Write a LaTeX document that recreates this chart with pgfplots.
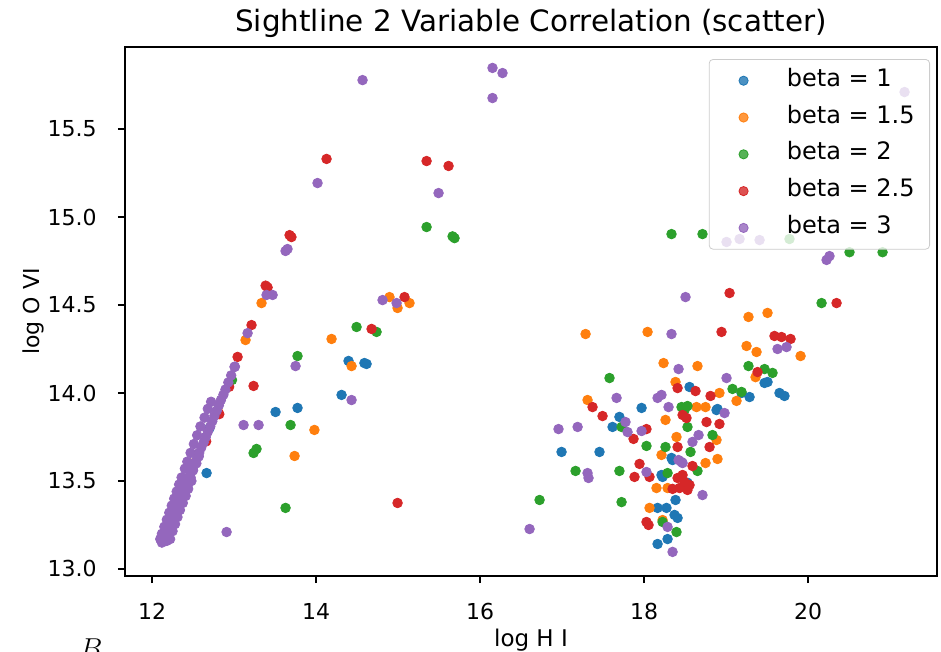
\documentclass[border=0pt]{standalone}
\usepackage{pgfplots}
\pgfplotsset{compat=1.18}
\usepackage{fontspec}
\setmainfont{DejaVu Sans}
\definecolor{tabblue}{HTML}{1F77B4}
\definecolor{taborange}{HTML}{FF7F0E}
\definecolor{tabgreen}{HTML}{2CA02C}
\definecolor{tabred}{HTML}{D62728}
\definecolor{tabpurple}{HTML}{9467BD}
\definecolor{leggray}{HTML}{CCCCCC}
\pgfplotsset{
  dot/.style={only marks, mark=*, mark size=2.4pt, color=#1, mark options={draw=none, fill=#1},
    legend image code/.code={\path (-10.5pt,0pt) (20.5pt,0pt); \fill[#1] (0pt,0pt) circle (2.3pt);}},
}
\begin{document}
\begin{tikzpicture}
\begin{axis}[
  name=ax,
  scale only axis,
  width=406pt, height=264.5pt,
  xmin=11.67, xmax=21.573, ymin=12.96, ymax=15.966,
  xtick={12,14,16,18,20},
  ytick={13,13.5,14,14.5,15,15.5},
  yticklabel style={/pgf/number format/fixed, /pgf/number format/fixed zerofill, /pgf/number format/precision=1},
  /pgf/number format/assume math mode=true,
  tick align=outside, tick pos=left, major tick length=3.5pt,
  tick style={black, line width=0.6pt},
  axis line style={black, line width=0.7pt},
  ticklabel style={font=\fontsize{11}{13}\selectfont, inner sep=0pt},
  yticklabel style={anchor=east},
  xticklabel style={anchor=north},
  yticklabel shift=10.5pt,
  xticklabel shift=10pt,
  title={Sightline 2 Variable Correlation (scatter)},
  title style={font=\fontsize{14.7}{17}\selectfont, at={(axis description cs:0.5,1.0075)}, anchor=base, inner sep=0pt},
  xlabel={log H I},
  xlabel style={font=\fontsize{11.5}{13}\selectfont, at={(axis description cs:0.5,-0.1323)}, anchor=base, inner sep=0pt},
  ylabel={log O VI},
  ylabel style={font=\fontsize{11}{13}\selectfont, at={(axis description cs:-0.113,0.5)}, anchor=center, inner sep=0pt},
  legend cell align=left,
  legend style={at={(axis description cs:0.9914,0.9773)}, anchor=north east,
    draw=leggray, fill=white, fill opacity=0.8, draw opacity=1, text opacity=1,
    rounded corners=2pt, inner xsep=6.5pt, inner ysep=5.4pt,
    font=\fontsize{12}{14}\selectfont, row sep=7.9pt,
    nodes={inner xsep=1pt, inner ysep=0pt, text height=8pt, text depth=2.5pt}},
]
% beta = 1
\addplot[dot=tabblue] coordinates {
(12.15,13.18) (12.40,13.45) (12.70,13.80)
(12.665,13.545) (13.506,13.892) (13.774,13.915) (14.396,14.182) (14.59,14.17) (14.616,14.165) (14.311,13.989)
(16.994,13.665) (17.457,13.665) (17.97,13.915) (17.70,13.864) (17.616,13.807) (18.555,14.034) (18.896,13.909)
(19.287,13.977) (19.47,14.057) (19.506,14.0625) (19.189,14.0) (19.652,14.0) (19.713,13.983)
(18.348,13.619) (18.335,13.631) (18.226,13.523) (18.213,13.534) (18.384,13.392) (18.165,13.347) (18.274,13.347)
(18.372,13.307) (18.409,13.29) (18.287,13.17) (18.165,13.142) (18.884,13.903) (18.53,13.49)
};
\addlegendentry{beta = 1}
% beta = 1.5
\addplot[dot=taborange] coordinates {
(12.20,13.25) (12.50,13.60) (12.80,13.90)
(13.335,14.511) (13.14,14.301) (13.98,13.79) (13.738,13.642) (14.189,14.307) (14.433,14.153)
(14.896,14.545) (15.14,14.511) (14.994,14.483)
(17.287,14.335) (18.043,14.347) (19.274,14.432) (19.506,14.455) (19.25,14.267) (19.372,14.233) (19.909,14.21)
(18.238,14.17) (18.652,14.153) (18.384,14.0625) (18.92,14.0) (19.128,13.955) (19.36,14.09) (17.311,13.96)
(18.262,13.847) (18.64,13.92) (18.75,13.92) (18.396,13.75) (18.213,13.648) (18.75,13.602) (18.896,13.625)
(18.152,13.46) (18.287,13.46) (18.067,13.347) (18.226,13.278) (18.884,13.733)
};
\addlegendentry{beta = 1.5}
% beta = 2
\addplot[dot=tabgreen] coordinates {
(12.25,13.30) (12.55,13.65)
(12.975,14.074) (13.774,14.21) (13.689,13.818) (13.238,13.659) (13.274,13.682) (13.628,13.347)
(14.494,14.375) (14.738,14.347) (15.348,14.943) (15.689,14.88) (15.665,14.89)
(18.335,14.903) (18.713,14.903) (19.774,14.875) (20.506,14.80) (20.909,14.80) (20.165,14.511)
(17.579,14.085) (19.274,14.153) (19.47,14.136) (19.567,14.114) (19.079,14.023) (19.189,14.006)
(18.457,13.92) (18.53,13.926) (18.494,13.903) (17.726,13.807) (18.03,13.699) (18.262,13.693) (18.53,13.807)
(18.835,13.761) (18.567,13.665) (18.652,13.557) (18.287,13.545) (17.165,13.557) (17.70,13.557) (17.726,13.38)
(16.726,13.392) (18.226,13.267) (18.396,13.21)
};
\addlegendentry{beta = 2}
% beta = 2.5
\addplot[dot=tabred] coordinates {
(12.30,13.35) (12.45,13.50) (12.36,13.41)
(14.128,15.33) (13.70,14.886) (13.677,14.897) (13.409,14.60) (13.385,14.61) (13.213,14.386) (13.043,14.205)
(13.238,14.04) (12.94,14.035) (12.82,13.88) (12.66,13.725) (15.348,15.318) (15.616,15.29) (14.677,14.364)
(15.079,14.545) (14.994,13.375)
(18.945,14.347) (19.043,14.568) (20.348,14.511) (19.591,14.324) (19.677,14.318) (19.787,14.307) (19.384,14.119)
(18.409,14.028) (18.628,14.011) (18.811,13.983) (17.372,13.92) (17.494,13.869) (18.47,13.875) (18.518,13.858)
(18.92,13.824) (18.762,13.835) (18.03,13.795) (17.872,13.739) (18.799,13.693) (18.409,13.693) (17.945,13.597)
(17.884,13.523) (18.067,13.523) (18.591,13.585) (18.409,13.517) (18.494,13.494) (18.433,13.46) (18.555,13.477)
(18.348,13.455) (18.47,13.534) (18.53,13.449) (18.03,13.267) (18.055,13.25)
};
\addlegendentry{beta = 2.5}
% beta = 3
\addplot[dot=tabpurple] coordinates {
(12.12,13.15) (12.14,13.17) (12.155,13.19) (12.175,13.21) (12.19,13.23) (12.21,13.25) (12.225,13.27)
(12.245,13.29) (12.26,13.31) (12.28,13.33) (12.30,13.35) (12.315,13.37) (12.335,13.39) (12.35,13.41)
(12.37,13.43) (12.39,13.45) (12.405,13.47) (12.425,13.49) (12.44,13.51) (12.46,13.53) (12.475,13.55)
(12.495,13.57) (12.52,13.60) (12.55,13.63) (12.575,13.66) (12.60,13.69) (12.63,13.72) (12.655,13.75)
(12.68,13.78) (12.71,13.81) (12.735,13.84) (12.76,13.87) (12.79,13.90) (12.815,13.93) (12.84,13.96)
(12.87,13.99) (12.895,14.02) (12.93,14.06) (12.965,14.10) (13.01,14.15)
(12.18,13.16) (12.20,13.20) (12.23,13.24) (12.26,13.28) (12.30,13.32) (12.33,13.36) (12.37,13.40)
(12.40,13.44) (12.44,13.48) (12.47,13.52) (12.50,13.56) (12.54,13.60) (12.57,13.64)
(12.22,13.17) (12.25,13.215) (12.28,13.255) (12.31,13.295) (12.34,13.335) (12.375,13.375) (12.41,13.415)
(12.44,13.455) (12.48,13.50)
(12.10,13.17) (12.12,13.20) (12.15,13.24) (12.18,13.28) (12.21,13.32) (12.24,13.36) (12.27,13.40)
(12.30,13.44) (12.33,13.48) (12.36,13.52) (12.40,13.57) (12.43,13.61) (12.47,13.66) (12.51,13.71)
(12.55,13.76) (12.59,13.81) (12.64,13.86) (12.68,13.91) (12.72,13.95)
(14.567,15.778) (16.152,15.847) (16.274,15.818) (16.152,15.676) (14.018,15.193) (15.494,15.136)
(13.652,14.818) (13.628,14.807) (13.396,14.557) (13.47,14.557) (13.165,14.34) (13.006,14.148) (13.75,14.153)
(13.116,13.818) (13.299,13.818) (14.433,13.96) (12.909,13.21) (14.811,14.528) (14.982,14.511)
(19.006,14.858) (19.165,14.875) (19.409,14.869) (21.177,15.71) (20.226,14.756) (20.262,14.778)
(18.506,14.545) (18.335,14.335) (18.421,14.136) (19.006,14.085) (19.628,14.25) (19.738,14.261)
(17.665,13.972) (18.165,13.972) (18.213,13.989) (18.299,13.92) (18.982,13.886) (16.957,13.795) (17.19,13.807)
(17.774,13.835) (17.799,13.778) (17.97,13.784) (18.665,13.761) (18.591,13.722) (18.421,13.619) (18.47,13.602)
(17.311,13.545) (17.323,13.517) (18.03,13.551) (18.713,13.42) (18.287,13.239) (18.348,13.097) (16.604,13.227)
(18.457,13.608)
};
\addlegendentry{beta = 3}
\end{axis}
\node[anchor=north, inner sep=0pt, font=\fontsize{15}{15}\selectfont] at ([xshift=-17pt,yshift=-31pt]ax.south west) {$B$};
\pgfresetboundingbox
\path[use as bounding box] ([xshift=-62.5pt,yshift=-37.5pt]ax.south west) rectangle ([xshift=2pt,yshift=23.5pt]ax.north east);
\end{tikzpicture}
\end{document}
